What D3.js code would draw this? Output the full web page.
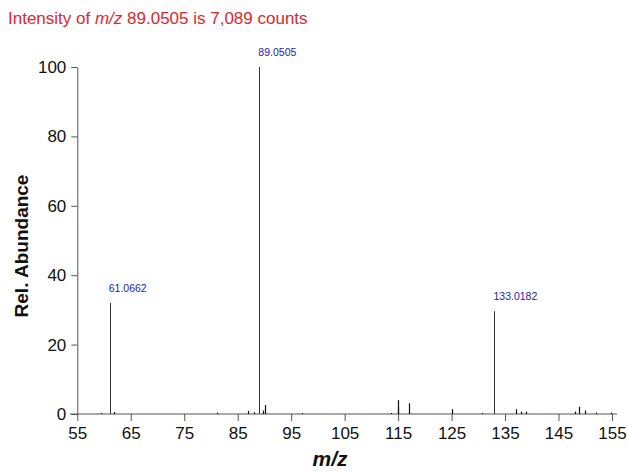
<!DOCTYPE html>
<html><head><meta charset="utf-8">
<script src="https://cdn.jsdelivr.net/npm/d3@7"></script>
<style>body{margin:0;background:#fff}svg{display:block}</style>
</head><body>
<script>
// Peak list (m/z, relative abundance %)
const mz = [59.4, 61.0662, 61.9, 81.2, 86.9, 88.0, 89.0505, 89.8, 90.05, 97.0, 113.7, 114.95, 115.05, 117.0, 125.0, 130.6, 133.0182, 137.0, 138.0, 139.0, 148.0, 148.9, 149.9, 152.0, 154.8];
const abundance = [0.3, 32.0, 0.6, 0.4, 0.9, 0.5, 100.0, 1.0, 2.6, 0.3, 0.3, 4.0, 2.0, 3.1, 1.4, 0.3, 29.6, 1.4, 0.7, 0.7, 0.7, 2.1, 1.0, 0.4, 0.4];
const labelled = ["61.0662", "89.0505", "133.0182"];
const xTicks = [55, 65, 75, 85, 95, 105, 115, 125, 135, 145, 155];
const yTicks = [0, 20, 40, 60, 80, 100];
const title = {pre: "Intensity of ", it: "m/z", post: " 89.0505 is 7,089 counts"};

const W = 627, H = 472;
const svg = d3.select("body").append("svg").attr("width", W).attr("height", H);
const x = d3.scaleLinear().domain([55, 155]).range([77.3, 612]);
const y = d3.scaleLinear().domain([0, 100]).range([414, 67]);
const axisColor = "#555";
const font = "Arial, 'Liberation Sans', sans-serif";

// Title
const t = svg.append("text").attr("x", 8).attr("y", 24).attr("fill", "#e0262e")
  .attr("font-family", font).attr("font-size", 17);
t.append("tspan").text(title.pre);
t.append("tspan").attr("font-style", "italic").text(title.it);
t.append("tspan").text(title.post);

// X axis
svg.append("line").attr("x1", 70).attr("x2", 617).attr("y1", y(0)).attr("y2", y(0))
  .attr("stroke", axisColor).attr("stroke-width", 1);
const xa = svg.append("g").attr("transform", `translate(0,${y(0)})`)
  .call(d3.axisBottom(x).tickValues(xTicks).tickSize(7).tickPadding(6).tickFormat(d3.format("d")));
xa.select(".domain").remove();
xa.selectAll("line").attr("stroke", axisColor);
xa.selectAll("text").attr("font-family", font).attr("font-size", 17).attr("fill", "#111");

// Y axis
const ya = svg.append("g").attr("transform", `translate(${x(55)},0)`)
  .call(d3.axisLeft(y).tickValues(yTicks).tickSize(6).tickPadding(5).tickSizeOuter(0));
ya.select(".domain").attr("stroke", axisColor);
ya.selectAll("line").attr("stroke", axisColor);
ya.selectAll("text").attr("font-family", font).attr("font-size", 17).attr("fill", "#111");

// Peaks
svg.append("g").selectAll("line").data(mz.map((m, i) => ({m, a: abundance[i]})))
  .join("line")
  .attr("x1", d => Math.round(x(d.m)) + 0.5).attr("x2", d => Math.round(x(d.m)) + 0.5)
  .attr("y1", y(0)).attr("y2", d => y(d.a))
  .attr("stroke", d => d.a > 10 ? "#333" : "#111").attr("stroke-width", d => d.a > 10 ? 1 : 1.2);

// Peak labels
const labData = mz.map((m, i) => ({m, a: abundance[i]})).filter(d => labelled.includes(d.m.toFixed(4)));
svg.append("g").selectAll("text").data(labData).join("text")
  .attr("x", d => x(d.m) - 1).attr("y", d => y(d.a) - 11)
  .attr("font-family", font).attr("font-size", 10.5).attr("fill", "#1c1cb0")
  .text(d => d.m.toFixed(4));

// Axis titles
svg.append("text").attr("transform", "translate(28,246) rotate(-90)")
  .attr("text-anchor", "middle").attr("font-family", font).attr("font-weight", "bold")
  .attr("font-size", 19).attr("fill", "#111").text("Rel. Abundance");
svg.append("text").attr("x", 330).attr("y", 466).attr("text-anchor", "middle")
  .attr("font-family", font).attr("font-weight", "bold").attr("font-style", "italic")
  .attr("font-size", 21).attr("fill", "#111").text("m/z");
</script>
</body></html>
